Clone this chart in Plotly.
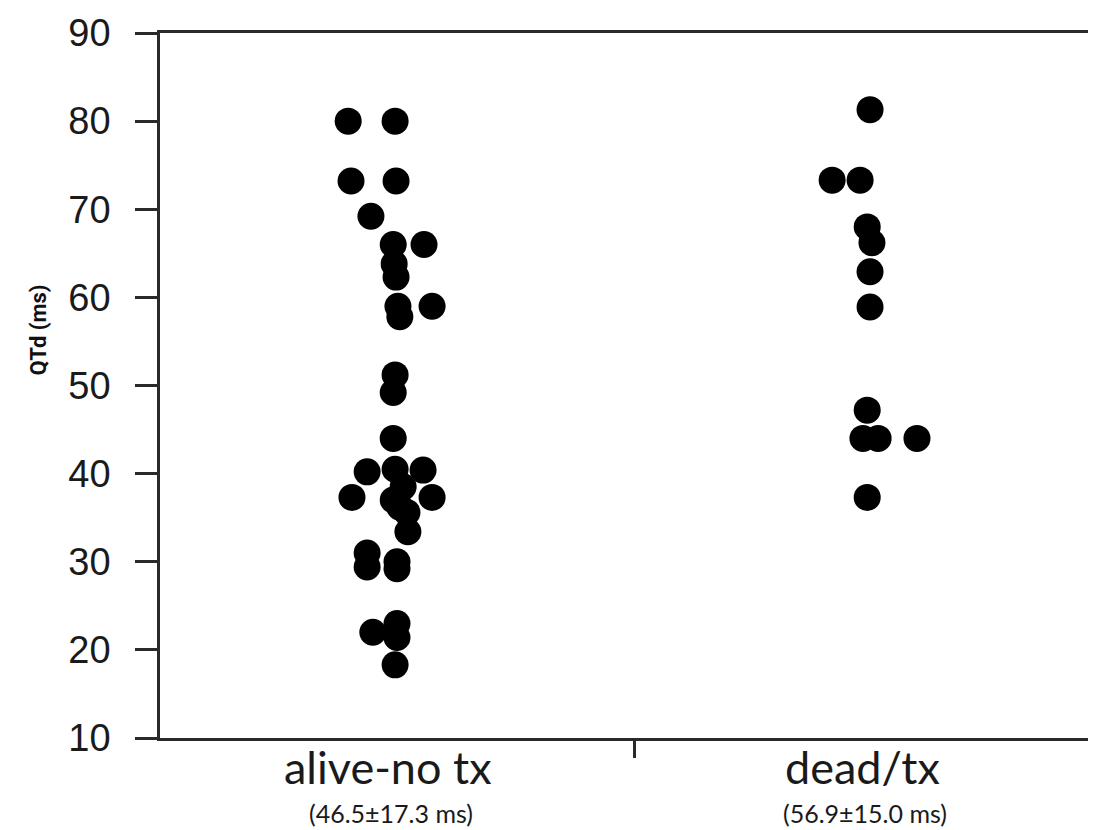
import plotly.graph_objects as go

categories = ["alive-no tx", "dead/tx"]
subtitles = ["(46.5±17.3 ms)", "(56.9±15.0 ms)"]

alive_qtd = [80, 80, 73.2, 73.2, 69.2, 66, 66, 63.8, 62.3, 59, 59, 57.8,
             51.2, 49.2, 44, 40.2, 40.5, 40.4, 37.3, 37.3, 38.5, 37, 35.6, 36.2, 33.4,
             31, 29.4, 30, 29.2, 22, 23, 21.4, 18.3]
alive_jitter = [-0.103, -0.004, -0.097, -0.002, -0.055, -0.008, 0.057, -0.006, -0.002, 0.074, 0.002, 0.006,
                -0.004, -0.008, -0.008, -0.063, -0.004, 0.055, -0.095, 0.074, 0.013, -0.008, 0.021, 0.006, 0.023,
                -0.063, -0.063, 0.0, 0.0, -0.051, 0.0, 0.0, -0.004]

dead_qtd = [81.3, 73.3, 73.3, 68, 66.2, 62.9, 58.9, 47.2, 44, 44, 44, 37.3]
dead_jitter = [-0.002, -0.082, -0.023, -0.008, 0.002, -0.002, -0.002, -0.008, -0.017, 0.015, 0.097, -0.008]

y_ticks = [10, 20, 30, 40, 50, 60, 70, 80, 90]

centers = [0.5, 1.5]
PLOT_W, PLOT_H = 936, 705

fig = go.Figure()
for c, ys, js in [(centers[0], alive_qtd, alive_jitter), (centers[1], dead_qtd, dead_jitter)]:
    fig.add_trace(go.Scatter(
        x=[c + j for j in js], y=ys, mode="markers",
        marker=dict(size=27, color="black", line=dict(width=0)),
        showlegend=False, hoverinfo="y"))

label_shift = -9 / 474
sub_shift = -6.5 / 474
for c, cat, sub in zip(centers, categories, subtitles):
    fig.add_annotation(x=c + label_shift, xref="x", y=1 - (767 - 33) / PLOT_H, yref="paper", text=cat,
                       showarrow=False, yanchor="middle",
                       font=dict(family="Lato", size=45, color="#1a1a1a"))
    fig.add_annotation(x=c + sub_shift, xref="x", y=1 - (813 - 33) / PLOT_H, yref="paper", text=sub,
                       showarrow=False, yanchor="middle",
                       font=dict(family="Lato", size=25, color="#1a1a1a"))

fig.add_annotation(xref="paper", yref="paper", x=(23 - 160) / PLOT_W, y=1 - (330 - 33) / PLOT_H,
                   text="<b>QTd (ms)</b>", showarrow=False, textangle=-90,
                   font=dict(family="Roboto", size=22, color="#111"))

fig.update_layout(
    width=1088, height=822,
    margin=dict(l=152, r=0, t=25, b=92),
    paper_bgcolor="white", plot_bgcolor="white",
    xaxis=dict(range=[0, PLOT_W / 474], showgrid=False, zeroline=False,
               showline=True, linecolor="#2a2a2a", linewidth=2.5, mirror=True,
               tickvals=[1], ticktext=[""], ticks="outside", ticklen=17, tickwidth=2.5, tickcolor="#2a2a2a"),
    yaxis=dict(range=[10, 90], tickvals=y_ticks, showgrid=False, zeroline=False,
               showline=True, linecolor="#2a2a2a", linewidth=2.5,
               ticks="outside", ticklen=22, tickwidth=2.5, tickcolor="#2a2a2a",
               ticklabelstandoff=17,
               tickfont=dict(family="Liberation Sans", size=38, color="#1a1a1a")),
)

fig.write_html("out.html")
